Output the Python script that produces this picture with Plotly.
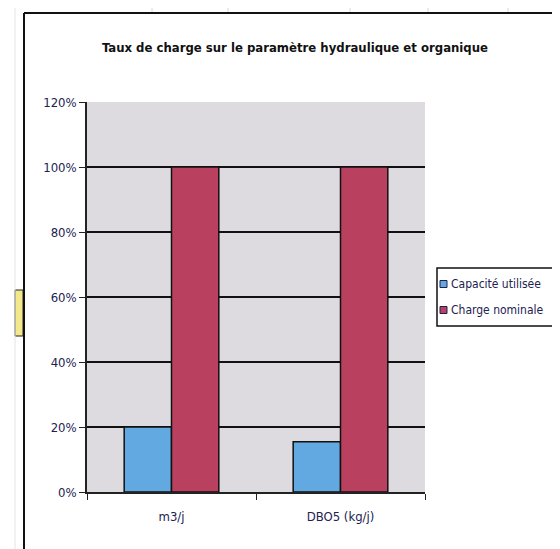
import plotly.graph_objects as go

categories = ["m3/j", "DBO5 (kg/j)"]
capacite_utilisee = [0.20, 0.155]
charge_nominale = [1.00, 1.00]
series_names = ["Capacité utilisée", "Charge nominale"]
series_colors = ["#62a9e2", "#b9405f"]
tick_vals = [0, 0.2, 0.4, 0.6, 0.8, 1.0, 1.2]
tick_text = ["0%", "20%", "40%", "60%", "80%", "100%", "120%"]

FONT = "DejaVu Sans Condensed, Liberation Sans Narrow, Arial Narrow, Liberation Sans, sans-serif"

fig = go.Figure()
for name, vals, col in zip(series_names, [capacite_utilisee, charge_nominale], series_colors):
    fig.add_trace(go.Bar(x=categories, y=vals, name=name, showlegend=False,
                         marker=dict(color=col, line=dict(color="#111111", width=1.5))))

OFF = 8  # page body margin
W, H = 560 - OFF, 549 - OFF
SL, SR, ST, SB = 87, 425, 102, 492
L, R, T, B = SL - OFF, SR - OFF, ST - OFF, SB - OFF

def px_x(p):
    return (p - SL) / (SR - SL)

def px_y(p):
    return (SB - p) / (SB - ST)

shapes = [
    dict(type="line", xref="paper", yref="paper", x0=px_x(24), x1=px_x(24), y0=px_y(13), y1=px_y(560),
         line=dict(color="#111111", width=2)),
    dict(type="line", xref="paper", yref="paper", x0=px_x(24), x1=px_x(570), y0=px_y(13), y1=px_y(13),
         line=dict(color="#111111", width=2)),
    dict(type="rect", xref="paper", yref="paper", x0=px_x(15), x1=px_x(23), y0=px_y(290), y1=px_y(336),
         fillcolor="#f3e98a", line=dict(color="#222222", width=1), layer="below"),
    dict(type="line", xref="paper", yref="paper", x0=px_x(15), x1=px_x(15), y0=px_y(0), y1=px_y(560),
         line=dict(color="#e4e4e4", width=1), layer="below"),
    # legend box
    dict(type="rect", xref="paper", yref="paper", x0=px_x(437), x1=px_x(555), y0=px_y(268), y1=px_y(326),
         fillcolor="white", line=dict(color="#111111", width=1.5)),
]
for gx in [152, 228, 350, 428, 508]:
    shapes.append(dict(type="line", xref="paper", yref="paper", x0=px_x(gx), x1=px_x(gx),
                       y0=px_y(0), y1=px_y(12), line=dict(color="#d8d8d8", width=1), layer="below"))

annotations = []
for i, (name, col) in enumerate(zip(series_names, series_colors)):
    cy = 284 + i * 26
    shapes.append(dict(type="rect", xref="paper", yref="paper",
                       x0=px_x(440), x1=px_x(447), y0=px_y(cy + 3.5), y1=px_y(cy - 3.5),
                       fillcolor=col, line=dict(color="#1c2350", width=1)))
    annotations.append(dict(text=name, xref="paper", yref="paper", x=px_x(449), y=px_y(cy),
                            xanchor="left", yanchor="middle", showarrow=False,
                            font=dict(family=FONT, size=12, color="#1c2350")))

fig.update_layout(
    width=W, height=H,
    margin=dict(l=L, r=W - R, t=T, b=H - B, autoexpand=False),
    paper_bgcolor="white",
    plot_bgcolor="#dddbe0",
    barmode="group",
    bargap=0.44,
    bargroupgap=0.0,
    title=dict(text="<b>Taux de charge sur le paramètre hydraulique et organique</b>",
               x=px_x(295), xref="paper", xanchor="center",
               y=1 - (47 - OFF) / H, yanchor="middle",
               font=dict(family=FONT, size=13, color="#111111")),
    font=dict(family=FONT, size=12, color="#1c2350"),
    showlegend=False,
    shapes=shapes,
    annotations=annotations,
    xaxis=dict(showgrid=False, showline=True, linecolor="#222222", linewidth=1.5, mirror=False,
               ticks="outside", ticklen=6, tickcolor="#222222", tickson="boundaries",
               ticklabelstandoff=12,
               tickfont=dict(family=FONT, size=13, color="#1c2350")),
    yaxis=dict(range=[0, 1.2], tickvals=tick_vals, ticktext=tick_text,
               showgrid=True, gridcolor="#111111", gridwidth=1.5,
               showline=True, linecolor="#222222", linewidth=1.5,
               ticks="outside", ticklen=6, tickcolor="#222222",
               zeroline=False,
               tickfont=dict(family=FONT, size=13, color="#1c2350")),
)

fig.write_html("out.html")
